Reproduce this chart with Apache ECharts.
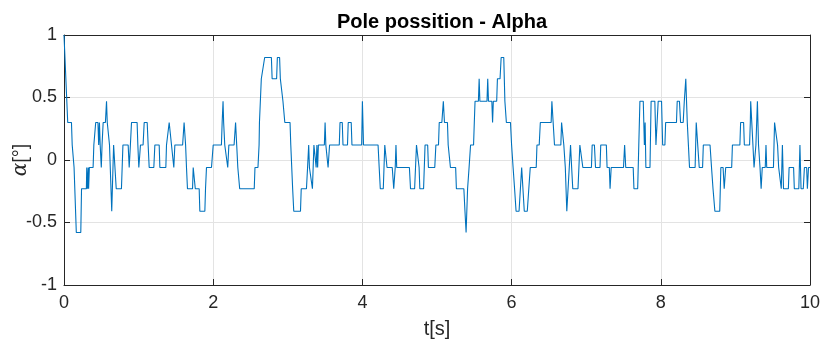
<!DOCTYPE html>
<html>
<head>
<meta charset="utf-8">
<script src="https://cdn.jsdelivr.net/npm/echarts@6/dist/echarts.min.js"></script>
<style>
html,body{margin:0;padding:0;background:#fff;}
#chart{width:823px;height:345px;}
</style>
</head>
<body>
<div id="chart"></div>
<script>
// Time samples (s) of the traced polyline vertices
var timeS = [
0,0.05,0.10,0.11,0.125,0.135,0.165,0.225,0.235,0.30,0.305,0.315,0.325,0.33,0.34,0.39,0.40,0.42,0.425,0.455,
0.465,0.475,0.485,0.50,0.51,0.525,0.555,0.57,0.58,0.60,0.61,0.64,0.665,0.68,0.70,0.77,0.79,0.86,0.874,0.89,
0.905,0.98,0.99,1.003,1.025,1.06,1.075,1.115,1.128,1.142,1.204,1.218,1.276,1.285,1.365,1.374,1.396,1.41,1.43,1.441,
1.463,1.472,1.486,1.59,1.61,1.63,1.642,1.655,1.723,1.732,1.754,1.76,1.812,1.821,1.888,1.897,1.91,1.977,2.00,
2.11,2.12,2.132,2.14,2.155,2.195,2.21,2.28,2.30,2.315,2.33,2.355,2.55,2.56,2.60,2.615,2.62,2.645,2.67,2.69,
2.78,2.79,2.85,2.86,2.89,2.90,2.92,2.935,2.95,2.96,3.03,3.04,3.065,3.08,3.17,3.18,3.25,3.265,3.28,3.29,
3.31,3.33,3.34,3.35,3.37,3.38,3.39,3.40,3.41,3.49,3.50,3.51,3.54,3.56,3.69,3.70,3.73,3.74,3.80,3.81,
3.85,3.86,3.99,4.00,4.015,
4.21,4.225,4.24,4.28,4.30,4.32,4.33,4.40,4.42,4.44,4.45,4.46,4.63,4.645,4.70,4.725,4.75,4.76,4.77,4.82,
4.84,4.875,4.885,4.97,4.985,5.02,5.03,5.065,5.085,5.10,5.14,5.15,5.17,5.18,5.25,5.26,5.36,5.375,5.39,5.41,
5.43,5.45,5.49,5.50,5.51,5.555,5.565,5.575,5.67,5.68,5.69,5.735,5.745,5.755,5.80,5.81,5.845,5.86,5.895,5.91,
5.93,5.985,6.00,6.02,6.04,6.06,
6.10,6.135,6.17,6.21,6.25,6.33,6.34,6.37,6.385,6.53,6.54,6.56,6.575,6.66,6.67,6.69,6.70,6.72,6.74,6.76,
6.79,6.805,6.82,6.89,6.915,6.94,6.955,7.07,7.08,7.11,7.125,7.185,7.195,7.27,7.28,7.31,7.32,7.335,7.50,7.515,
7.53,7.63,7.64,7.69,7.705,7.72,7.765,7.78,7.79,7.80,7.855,7.87,7.92,7.935,7.95,7.965,8.01,8.025,8.055,8.065,
8.21,8.22,8.25,8.265,8.30,8.315,8.335,8.345,8.355,8.37,8.385,8.46,8.475,8.50,8.515,8.56,8.57,8.66,8.68,8.70,
8.725,8.79,8.805,8.835,8.85,8.87,8.95,8.96,9.06,9.07,9.11,9.12,9.19,9.20,9.205,9.22,9.235,9.25,9.275,9.295,
9.31,9.33,9.345,9.36,9.40,9.41,9.42,9.51,9.525,9.55,9.565,9.58,9.60,9.615,9.63,9.645,9.71,9.72,9.78,9.79,
9.85,9.865,9.88,9.91,9.925,9.955,9.965,9.98,10.0
];
// Pole angle alpha (deg) at those vertices
var alphaDeg = [
1.0,0.30,0.30,0.12,0.12,-0.06,-0.58,-0.58,-0.23,-0.23,-0.06,-0.23,-0.06,-0.23,-0.06,-0.06,0.12,0.12,0.30,0.30,
0.12,0.30,0.12,-0.06,0.12,0.30,0.30,0.47,0.30,0.30,0.12,-0.41,0.12,0.12,-0.23,-0.23,0.12,0.12,-0.06,0.12,
0.30,0.30,0.12,-0.06,0.12,0.12,0.30,0.30,0.12,-0.06,-0.06,0.12,0.12,-0.06,-0.06,0.12,0.12,0.30,0.30,0.12,
0.12,-0.06,0.12,0.12,0.30,0.12,-0.06,-0.23,-0.23,-0.06,-0.06,-0.23,-0.23,-0.41,-0.41,-0.23,-0.06,-0.06,0.12,
0.12,0.30,0.47,0.30,0.12,-0.06,0.12,0.12,0.30,0.12,-0.06,-0.23,-0.23,-0.06,-0.06,0.12,0.30,0.65,0.65,0.82,
0.82,0.65,0.65,0.82,0.82,0.65,0.65,0.47,0.47,0.30,0.30,0.12,-0.23,-0.41,-0.41,-0.23,-0.23,-0.06,0.12,-0.06,
-0.06,-0.23,-0.06,0.12,0.12,-0.06,0.12,-0.06,0.12,0.12,0.30,0.12,-0.06,0.12,0.12,0.30,0.30,0.12,0.12,0.30,
0.30,0.12,0.12,0.47,0.12,
0.12,-0.06,-0.23,-0.23,0.12,0.12,-0.06,-0.06,-0.23,-0.06,0.12,-0.06,-0.06,-0.23,-0.23,0.12,0.12,-0.06,-0.23,-0.23,
0.12,0.12,-0.06,-0.06,0.12,0.12,0.30,0.30,0.47,0.30,0.30,0.12,0.12,-0.06,-0.06,-0.23,-0.23,-0.41,-0.58,-0.23,
-0.06,0.12,0.12,0.30,0.47,0.47,0.65,0.47,0.47,0.65,0.47,0.47,0.30,0.47,0.47,0.65,0.65,0.82,0.82,0.47,
0.30,0.30,0.12,-0.06,-0.23,-0.41,
-0.41,-0.06,-0.41,-0.41,-0.06,-0.06,0.12,0.12,0.30,0.30,0.47,0.47,0.12,0.12,0.30,0.30,0.12,-0.06,-0.41,-0.41,
0.12,-0.06,-0.23,-0.23,0.12,0.12,-0.06,-0.06,0.12,0.12,-0.06,-0.06,0.12,0.12,-0.06,-0.06,-0.23,-0.06,-0.06,0.12,
-0.06,-0.06,-0.23,-0.23,0.12,0.47,0.47,0.12,0.30,-0.06,-0.06,0.47,0.47,0.12,0.12,0.47,0.47,0.12,0.12,0.30,
0.30,0.47,0.47,0.30,0.30,0.47,0.65,0.47,0.30,0.12,-0.06,-0.06,0.30,0.30,-0.06,-0.06,0.12,0.12,-0.06,-0.23,
-0.41,-0.41,-0.06,-0.06,-0.23,-0.06,-0.06,0.12,0.12,0.30,0.30,0.12,0.12,0.30,0.47,0.47,0.12,-0.06,0.12,0.47,
0.12,-0.06,-0.23,-0.06,-0.06,0.12,-0.06,-0.06,0.30,0.30,0.12,-0.06,-0.06,-0.23,0.12,-0.23,-0.23,-0.06,-0.06,-0.23,
-0.23,0.12,-0.23,-0.23,-0.06,-0.06,-0.23,-0.06,-0.06
];
var xTicks = [0, 2, 4, 6, 8, 10];
var yTicks = [-1, -0.5, 0, 0.5, 1];

var points = timeS.map(function (t, i) { return [t, alphaDeg[i]]; });

var chart = echarts.init(document.getElementById('chart'), null, {renderer: 'canvas'});
var boxColor = '#262626';
var gridColor = '#e3e3e3';
var font = 'Liberation Sans';

function mkX(pos, showLabel) {
  return {
    type: 'value', position: pos, min: xTicks[0], max: xTicks[xTicks.length - 1], interval: 2,
    axisLine: {show: true, onZero: false, lineStyle: {color: boxColor, width: 1}},
    axisTick: {show: true, inside: true, length: 6, lineStyle: {color: boxColor}},
    axisLabel: {show: showLabel, color: '#262626', fontFamily: font, fontSize: 18, margin: 9},
    splitLine: {show: showLabel, lineStyle: {color: gridColor, width: 1}},
    name: showLabel ? 't[s]' : '', nameLocation: 'middle', nameGap: 34, nameMoveOverlap: false,
    nameTextStyle: {color: '#262626', fontFamily: font, fontSize: 20}
  };
}
function mkY(pos, showLabel) {
  return {
    type: 'value', position: pos, min: yTicks[0], max: yTicks[yTicks.length - 1], interval: 0.5,
    axisLine: {show: true, onZero: false, lineStyle: {color: boxColor, width: 1}},
    axisTick: {show: true, inside: true, length: 6, lineStyle: {color: boxColor}},
    axisLabel: {show: showLabel, color: '#262626', fontFamily: font, fontSize: 18, margin: 7},
    splitLine: {show: showLabel, lineStyle: {color: gridColor, width: 1}},
    name: showLabel ? '{a|α}[°]' : '', nameLocation: 'middle', nameGap: 33, nameRotate: 90,
    nameMoveOverlap: false,
    nameTextStyle: {color: '#262626', fontFamily: font, fontSize: 20,
      rich: {a: {fontFamily: 'DejaVu Serif', fontStyle: 'italic', fontSize: 20, color: '#262626'}}}
  };
}

chart.setOption({
  animation: false,
  backgroundColor: '#ffffff',
  title: {
    text: 'Pole possition - Alpha', left: 437, top: 7, textAlign: 'center',
    textStyle: {fontFamily: font, fontWeight: 'bold', fontSize: 20, color: '#000000'}
  },
  grid: {left: 64, right: 13, top: 35, bottom: 60, containLabel: false, outerBoundsMode: 'none'},
  xAxis: [mkX('bottom', true), mkX('top', false)],
  yAxis: [mkY('left', true), mkY('right', false)],
  series: [{
    type: 'line', data: points, xAxisIndex: 0, yAxisIndex: 0,
    showSymbol: false, symbol: 'none',
    lineStyle: {color: '#0072BD', width: 1.1},
    clip: true
  }]
});
</script>
</body>
</html>
